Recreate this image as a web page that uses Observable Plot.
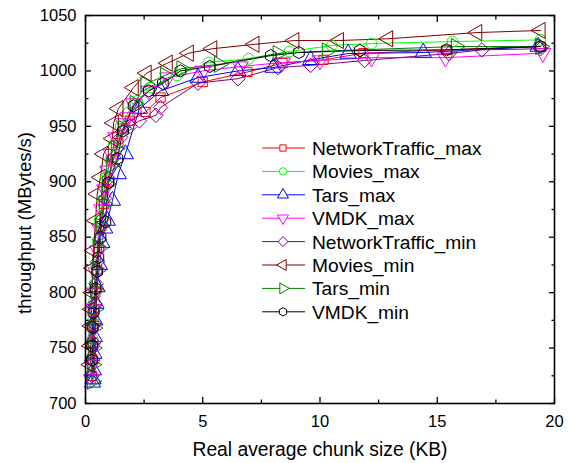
<!DOCTYPE html>
<html><head><meta charset="utf-8">
<script src="https://cdn.jsdelivr.net/npm/d3@7"></script>
<script src="https://cdn.jsdelivr.net/npm/@observablehq/plot@0.6"></script>
<style>
body{margin:0;background:#fff;font-family:"Liberation Sans",Arial,sans-serif;}
#chart{width:574px;height:463px;}
</style>
</head><body><div id="chart"></div>
<script>
// ---- data (x = real average chunk size in KB, y = throughput in MBytes/s)
const seriesNames = ["NetworkTraffic_max","Movies_max","Tars_max","VMDK_max","NetworkTraffic_min","Movies_min","Tars_min","VMDK_min"];

const networkTrafficMax = [[0.28,725],[0.3,740],[0.32,755],[0.35,770],[0.38,785],[0.42,800],[0.5,820],[0.58,840],[0.68,860],[0.8,880],[1.0,900],[1.15,920],[1.4,935],[1.6,948],[1.9,955],[2.56,963],[3.2,976],[5.0,990],[6.9,999],[8.4,1007],[10.15,1010],[11.85,1016],[15.4,1019],[19.4,1022]];
const moviesMax = [[0.25,722],[0.28,740],[0.3,758],[0.33,775],[0.36,792],[0.4,808],[0.45,825],[0.52,845],[0.6,865],[0.72,883],[0.85,903],[1.07,919],[1.2,933],[1.5,950],[1.8,962],[2.2,973],[2.8,985],[3.9,996],[5.25,1007.6],[6.96,1011],[8.7,1017.5],[10.5,1023],[12.2,1024.7],[15.65,1026.5],[19.4,1028]];
const tarsMax = [[0.3,719],[0.32,722],[0.34,730],[0.36,745],[0.38,760],[0.4,775],[0.45,790],[0.5,805],[0.6,825],[0.7,845],[0.82,858],[0.93,865],[1.15,883],[1.4,907],[1.7,925],[2.3,966],[3.2,982],[4.8,994],[6.5,1000],[8.0,1003],[9.6,1010],[11.2,1015.7],[14.4,1016.6],[19.3,1022]];
const vmdkMax = [[0.26,722],[0.28,735],[0.3,750],[0.33,768],[0.36,785],[0.4,800],[0.45,818],[0.52,838],[0.6,858],[0.7,875],[0.82,893],[0.95,910],[1.1,925],[1.3,940],[1.6,952.6],[1.8,958],[2.05,970.6],[2.7,982],[3.5,994],[5.0,1000],[6.6,1004],[8.4,1007.6],[10.0,1009.4],[12.2,1012],[15.35,1012],[19.5,1016]];
const networkTrafficMin = [[0.27,725],[0.3,740],[0.33,755],[0.36,772],[0.4,790],[0.45,808],[0.52,828],[0.6,848],[0.7,866],[0.82,885],[0.98,903],[1.2,922],[1.5,940],[1.9,950],[2.3,955],[3.0,960],[3.2,967],[4.8,989],[6.5,993],[8.2,1003],[9.6,1005],[11.9,1009.4],[15.5,1015.7],[16.9,1019],[19.4,1020]];
const moviesMin = [[0.2,735],[0.22,752],[0.24,770],[0.26,785],[0.28,800],[0.31,822],[0.34,838],[0.43,865],[0.5,889],[0.64,904],[0.77,925],[1.15,939],[1.2,953],[1.4,966],[2.05,985],[2.6,998],[3.5,1007],[4.4,1016],[5.4,1020],[7.2,1024],[8.9,1027.4],[10.8,1027.4],[12.9,1029],[16.7,1034.6],[19.4,1036.5]];
const tarsMin = [[0.28,720],[0.3,735],[0.32,750],[0.35,768],[0.38,785],[0.42,802],[0.48,820],[0.55,840],[0.65,860],[0.78,880],[0.92,898],[1.1,915],[1.3,930],[1.6,948],[2.1,970.6],[2.56,988],[3.4,996],[4.1,1002],[5.7,1006],[8.2,1015.7],[10.3,1018],[15.8,1022],[19.4,1022]];
const vmdkMin = [[0.28,739],[0.29,752],[0.3,768.5],[0.34,782],[0.43,803.7],[0.5,819],[0.55,831.7],[0.64,850],[0.85,864],[0.98,899],[1.36,921],[1.6,945.8],[2.05,968.5],[2.7,982],[3.3,988.7],[4.05,1000],[5.3,1004],[7.9,1013.8],[9.1,1016.6],[11.7,1018.4],[15.4,1019],[19.4,1022]];

const seriesData = [networkTrafficMax, moviesMax, tarsMax, vmdkMax, networkTrafficMin, moviesMin, tarsMin, vmdkMin];

const xTicks = [0,5,10,15,20];
const xMinorTicks = [2.5,7.5,12.5,17.5];
const yTicks = [700,750,800,850,900,950,1000,1050];
const yMinorTicks = [725,775,825,875,925,975,1025];

// ---- styles
const seriesColors = ["#ff0000","#00ff00","#0000ff","#ff00ff","#800080","#800000","#008000","#000000"];
const S3 = Math.sqrt(3);
const triUp = {draw(c,s){const y=-Math.sqrt(s/(S3*3));c.moveTo(0,y*2);c.lineTo(-S3*y,-y);c.lineTo(S3*y,-y);c.closePath();}};
const triDown = {draw(c,s){const y=-Math.sqrt(s/(S3*3));c.moveTo(0,-y*2);c.lineTo(-S3*y,y);c.lineTo(S3*y,y);c.closePath();}};
const triLeft = {draw(c,s){const y=-Math.sqrt(s/(S3*3));c.moveTo(y*2,0);c.lineTo(-y,-S3*y);c.lineTo(-y,S3*y);c.closePath();}};
const triRight = {draw(c,s){const y=-Math.sqrt(s/(S3*3));c.moveTo(-y*2,0);c.lineTo(y,-S3*y);c.lineTo(y,S3*y);c.closePath();}};
const square = {draw(c,s){const h=Math.sqrt(s)/2;c.rect(-h,-h,2*h,2*h);}};
const circle = {draw(c,s){const r=Math.sqrt(s/Math.PI);c.moveTo(r,0);c.arc(0,0,r,0,2*Math.PI);}};
const diamond = {draw(c,s){const h=Math.sqrt(s/2);c.moveTo(0,-h);c.lineTo(h,0);c.lineTo(0,h);c.lineTo(-h,0);c.closePath();}};
const hexagon = {draw(c,s){const r=Math.sqrt(s/(1.5*S3));for(let i=0;i<6;i++){const a=Math.PI/6+i*Math.PI/3;const px=r*Math.cos(a),py=r*Math.sin(a);if(i)c.lineTo(px,py);else c.moveTo(px,py);}c.closePath();}};
const seriesSymbols = [square, circle, triUp, triDown, diamond, triLeft, triRight, hexagon];
const seriesSizes = [5.2, 5.4, 6.0, 6.0, 5.8, 6.0, 6.0, 5.6]; // radius-equivalent for Plot dot r

const W = 574, H = 463, mL = 85, mR = 20, mT = 15, mB = 60;
const tickFont = 16.5, titleFont = 19.3, legendFont = 19.2;

const marks = [];
seriesData.forEach((data, i) => {
  marks.push(Plot.line(data, {x: d => d[0], y: d => d[1], stroke: seriesColors[i], strokeWidth: 1}));
});
seriesData.forEach((data, i) => {
  marks.push(Plot.dot(data, {x: d => d[0], y: d => d[1], stroke: seriesColors[i], fill: "none", strokeWidth: 1, symbol: seriesSymbols[i], r: seriesSizes[i]}));
});

const noText = () => "";
const numFmt = d3.format("d");
// major and minor ticks on all four sides, pointing inward
marks.push(
  Plot.axisX(xTicks, {anchor: "bottom", tickSize: 6, dy: -6, tickFormat: noText, label: null, strokeWidth: 1.3}),
  Plot.axisX(xTicks, {anchor: "top", tickSize: 6, dy: 6, tickFormat: noText, label: null, strokeWidth: 1.3}),
  Plot.axisX(xMinorTicks, {anchor: "bottom", tickSize: 3.5, dy: -3.5, tickFormat: noText, label: null, strokeWidth: 1.3}),
  Plot.axisX(xMinorTicks, {anchor: "top", tickSize: 3.5, dy: 3.5, tickFormat: noText, label: null, strokeWidth: 1.3}),
  Plot.axisY(yTicks, {anchor: "left", tickSize: 6, dx: 6, tickFormat: noText, label: null, strokeWidth: 1.3}),
  Plot.axisY(yTicks, {anchor: "right", tickSize: 6, dx: -6, tickFormat: noText, label: null, strokeWidth: 1.3}),
  Plot.axisY(yMinorTicks, {anchor: "left", tickSize: 3.5, dx: 3.5, tickFormat: noText, label: null, strokeWidth: 1.3}),
  Plot.axisY(yMinorTicks, {anchor: "right", tickSize: 3.5, dx: -3.5, tickFormat: noText, label: null, strokeWidth: 1.3}),
  // labels
  Plot.axisX(xTicks, {anchor: "bottom", tickSize: 0, tickPadding: 12, tickFormat: numFmt, label: null, fontSize: tickFont, fill: "#000"}),
  Plot.axisY(yTicks, {anchor: "left", tickSize: 0, tickPadding: 9, tickFormat: numFmt, label: null, fontSize: tickFont, fill: "#000"}),
  Plot.frame({stroke: "#000", strokeWidth: 1.6})
);

const chart = Plot.plot({
  width: W, height: H,
  marginLeft: mL, marginRight: mR, marginTop: mT, marginBottom: mB,
  x: {domain: [0, 20]},
  y: {domain: [700, 1050]},
  style: {fontFamily: '"Liberation Sans", Arial, sans-serif', color: "#000", background: "#fff", overflow: "visible"},
  marks
});

const svg = d3.select(chart);
// axis titles
svg.append("text").attr("x", 320).attr("y", 456).attr("text-anchor", "middle")
  .attr("font-size", titleFont).attr("fill", "#000").text("Real average chunk size (KB)");
svg.append("text").attr("transform", "translate(31,223) rotate(-90)").attr("text-anchor", "middle")
  .attr("font-size", 18.5).attr("fill", "#000").text("throughput (MBytes/s)");

// legend
const lg = svg.append("g").attr("text-anchor", "start");
const legendTop = 148, legendStep = 23.4;
seriesNames.forEach((name, i) => {
  const y = legendTop + i * legendStep;
  lg.append("line").attr("x1", 262).attr("x2", 305).attr("y1", y).attr("y2", y)
    .attr("stroke", seriesColors[i]).attr("stroke-width", 1);
  lg.append("path").attr("transform", `translate(283,${y})`)
    .attr("d", d3.symbol(seriesSymbols[i], Math.PI * Math.pow(seriesSizes[i] * 0.68, 2))())
    .attr("fill", "#fff").attr("stroke", seriesColors[i]).attr("stroke-width", 1);
  lg.append("text").attr("x", 312).attr("y", y).attr("dy", "0.36em").attr("text-anchor", "start")
    .attr("font-size", legendFont).attr("fill", "#000").text(name);
});

document.getElementById("chart").appendChild(chart);
</script>
</body></html>
